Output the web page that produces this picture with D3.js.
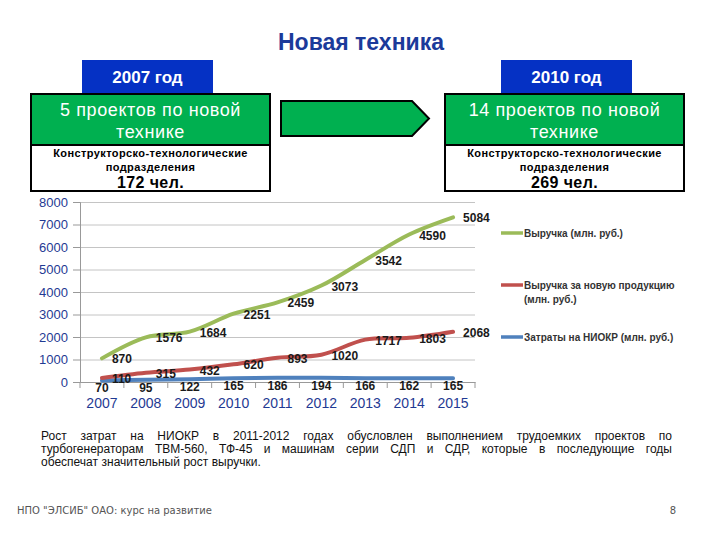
<!DOCTYPE html>
<html>
<head>
<meta charset="utf-8">
<script src="https://cdn.jsdelivr.net/npm/d3@7"></script>
<style>
  body { margin: 0; background: #fff; }
  text { font-family: "Liberation Sans", Arial, sans-serif; }
</style>
</head>
<body>
<div id="chart"></div>
<script>
// Data
var years = ["2007", "2008", "2009", "2010", "2011", "2012", "2013", "2014", "2015"];
var niokr = [70, 95, 122, 165, 186, 194, 166, 162, 165];
var newProduct = [110, 315, 432, 620, 893, 1020, 1717, 1803, 2068];
var revenue = [870, 1576, 1684, 2251, 2459, 3073, 3542, 4590, 5084];
var yTicks = [0, 1000, 2000, 3000, 4000, 5000, 6000, 7000, 8000];

var seriesColors = ["#4f81bd", "#c0504d", "#9bbb59"];

var svgWidth = 720;
var svgHeight = 540;

var svg = d3.select("#chart")
    .append("svg")
    .attr("width", svgWidth)
    .attr("height", svgHeight);

svg.append("rect").attr("width", svgWidth).attr("height", svgHeight).attr("fill", "#fff");

// Title
svg.append("text")
    .attr("x", 361)
    .attr("y", 50)
    .attr("text-anchor", "middle")
    .style("font-size", "23px")
    .style("font-weight", "bold")
    .attr("fill", "#1b3a9a")
    .text("Новая техника");

// Header blocks (2007 / 2010)
var blocks = [
    {year: "2007 год", projects: "5 проектов по новой", people: "172 чел.", x: 31, bx: 82},
    {year: "2010 год", projects: "14 проектов по новой", people: "269 чел.", x: 445, bx: 501}
];

blocks.forEach(function(b) {
    var g = svg.append("g");
    var w = 239;
    var cx = b.x + w / 2;

    g.append("rect").attr("x", b.bx).attr("y", 60).attr("width", 131).attr("height", 34)
        .attr("fill", "#0531c4");
    g.append("text").attr("x", b.bx + 65.5).attr("y", 83).attr("text-anchor", "middle")
        .style("font-size", "17px").style("font-weight", "bold").attr("fill", "#fff")
        .text(b.year);

    g.append("rect").attr("x", b.x).attr("y", 94).attr("width", w).attr("height", 51)
        .attr("fill", "#00b050").attr("stroke", "#000").attr("stroke-width", 2);
    g.append("text").attr("x", cx).attr("y", 116).attr("text-anchor", "middle")
        .style("font-size", "18px").style("letter-spacing", "0.6px").attr("fill", "#fff")
        .text(b.projects);
    g.append("text").attr("x", cx).attr("y", 138).attr("text-anchor", "middle")
        .style("font-size", "18px").style("letter-spacing", "0.6px").attr("fill", "#fff")
        .text("технике");

    g.append("rect").attr("x", b.x).attr("y", 145).attr("width", w).attr("height", 46)
        .attr("fill", "#fff").attr("stroke", "#000").attr("stroke-width", 2);
    g.append("text").attr("x", cx).attr("y", 157).attr("text-anchor", "middle")
        .style("font-size", "11px").style("font-weight", "bold").style("letter-spacing", "0.4px")
        .attr("fill", "#000")
        .text("Конструкторско-технологические");
    g.append("text").attr("x", cx).attr("y", 171).attr("text-anchor", "middle")
        .style("font-size", "11px").style("font-weight", "bold").style("letter-spacing", "0.4px")
        .attr("fill", "#000")
        .text("подразделения");
    g.append("text").attr("x", cx).attr("y", 188).attr("text-anchor", "middle")
        .style("font-size", "16px").style("font-weight", "bold").style("letter-spacing", "0.4px")
        .attr("fill", "#000")
        .text(b.people);
});

// Arrow
svg.append("path")
    .attr("d", "M281,101 L412,101 L429,118.5 L412,136 L281,136 Z")
    .attr("fill", "#00b050")
    .attr("stroke", "#000")
    .attr("stroke-width", 2);

// Chart scales
var x = d3.scaleBand().domain(years).range([80, 475]);
var y = d3.scaleLinear().domain([0, 8000]).range([382, 202]);

var table = years.map(function(yr, i) {
    return {year: yr, niokr: niokr[i], newProduct: newProduct[i], revenue: revenue[i]};
});
var stack = d3.stack().keys(["niokr", "newProduct", "revenue"]);
var stacked = stack(table);

var chartGroup = svg.append("g");

// Gridlines
chartGroup.append("g")
    .attr("transform", "translate(80,0)")
    .call(d3.axisLeft(y).tickValues(yTicks).tickSize(-395).tickFormat(""))
    .call(function(g) {
        g.select(".domain").remove();
        g.selectAll("line").attr("stroke", "#c4c4c4");
    });

// Y axis
chartGroup.append("g")
    .attr("transform", "translate(80,0)")
    .call(d3.axisLeft(y).tickValues(yTicks).tickSize(7).tickPadding(5).tickFormat(d3.format("d")))
    .call(function(g) {
        g.select(".domain").attr("stroke", "#999");
        g.selectAll("line").attr("stroke", "#999");
        g.selectAll("text").style("font-size", "13px").attr("fill", "#1f3a93")
            .style("font-family", "'Liberation Sans', Arial, sans-serif");
    });

// X axis
chartGroup.append("g")
    .attr("transform", "translate(0,382)")
    .call(d3.axisBottom(x).tickSize(0).tickPadding(16))
    .call(function(g) {
        g.select(".domain").attr("stroke", "#999");
        g.selectAll("text").style("font-size", "14px").attr("fill", "#1f3a93")
            .style("font-family", "'Liberation Sans', Arial, sans-serif");
    });

// Category boundary ticks
var bounds = years.map(function(d) { return x(d); }).concat([x.range()[1]]);
chartGroup.selectAll(".btick")
    .data(bounds)
    .enter()
    .append("line")
    .attr("x1", d => d).attr("x2", d => d)
    .attr("y1", 382).attr("y2", 388)
    .attr("stroke", "#999");

// Lines
var line = d3.line()
    .x(function(d) { return x(d.data.year) + x.bandwidth() / 2; })
    .y(function(d) { return y(d[1]); })
    .curve(d3.curveCatmullRom.alpha(0.5));

chartGroup.selectAll(".series")
    .data(stacked)
    .enter()
    .append("path")
    .attr("d", line)
    .attr("fill", "none")
    .attr("stroke", (d, i) => seriesColors[i])
    .attr("stroke-width", 4)
    .attr("stroke-linecap", "round");

// Data labels
var cx = d => x(d.data.year) + x.bandwidth() / 2;

stacked.forEach(function(s, si) {
    chartGroup.append("g")
        .selectAll("text")
        .data(s)
        .enter()
        .append("text")
        .attr("x", function(d) { return si === 0 ? cx(d) : cx(d) + 10; })
        .attr("y", function(d) { return si === 0 ? y(d[1]) + 12 : y(d[1]) + 5; })
        .attr("text-anchor", si === 0 ? "middle" : "start")
        .style("font-size", "12px")
        .style("font-weight", "bold")
        .attr("fill", "#1a1a1a")
        .text(function(d) { return d[1] - d[0]; });
});

// Legend
var legendItems = [
    {name: ["Выручка (млн. руб.)"], color: seriesColors[2], y: 233},
    {name: ["Выручка за новую продукцию", "(млн. руб.)"], color: seriesColors[1], y: 285},
    {name: ["Затраты на НИОКР (млн. руб.)"], color: seriesColors[0], y: 337}
];
var legend = svg.append("g");
legendItems.forEach(function(item) {
    legend.append("line")
        .attr("x1", 501).attr("x2", 523)
        .attr("y1", item.y).attr("y2", item.y)
        .attr("stroke", item.color).attr("stroke-width", 3.5);
    item.name.forEach(function(t, k) {
        legend.append("text")
            .attr("x", 524).attr("y", item.y + 3.5 + k * 14)
            .style("font-size", "10px").style("font-weight", "bold")
            .attr("fill", "#333")
            .text(t);
    });
});

// Paragraph (justified)
var paraLines = [
    "Рост затрат на НИОКР в 2011-2012 годах обусловлен выполнением трудоемких проектов по",
    "турбогенераторам ТВМ-560, ТФ-45 и машинам серии СДП и СДР, которые в последующие годы",
    "обеспечат значительный рост выручки."
];
var paraLeft = 41, paraRight = 672;
paraLines.forEach(function(ln, li) {
    var words = ln.split(" ");
    var g = svg.append("g");
    var nodes = words.map(function(w) {
        return g.append("text").attr("y", 440 + li * 13)
            .style("font-size", "12px").attr("fill", "#111").text(w);
    });
    var widths = nodes.map(n => n.node().getComputedTextLength());
    var total = d3.sum(widths);
    var last = li === paraLines.length - 1;
    var gap = last ? 3.5 : (paraRight - paraLeft - total) / (words.length - 1);
    var pos = paraLeft;
    nodes.forEach(function(n, k) {
        n.attr("x", pos);
        pos += widths[k] + gap;
    });
});

// Footer
svg.append("text")
    .attr("x", 17).attr("y", 514)
    .style("font-family", "'DejaVu Sans', Verdana, sans-serif")
    .style("font-size", "10px").attr("fill", "#555")
    .text("НПО \"ЭЛСИБ\" ОАО: курс на развитие");
svg.append("text")
    .attr("x", 676).attr("y", 514).attr("text-anchor", "end")
    .style("font-family", "'DejaVu Sans', Verdana, sans-serif")
    .style("font-size", "10px").attr("fill", "#555")
    .text("8");
</script>
</body>
</html>
